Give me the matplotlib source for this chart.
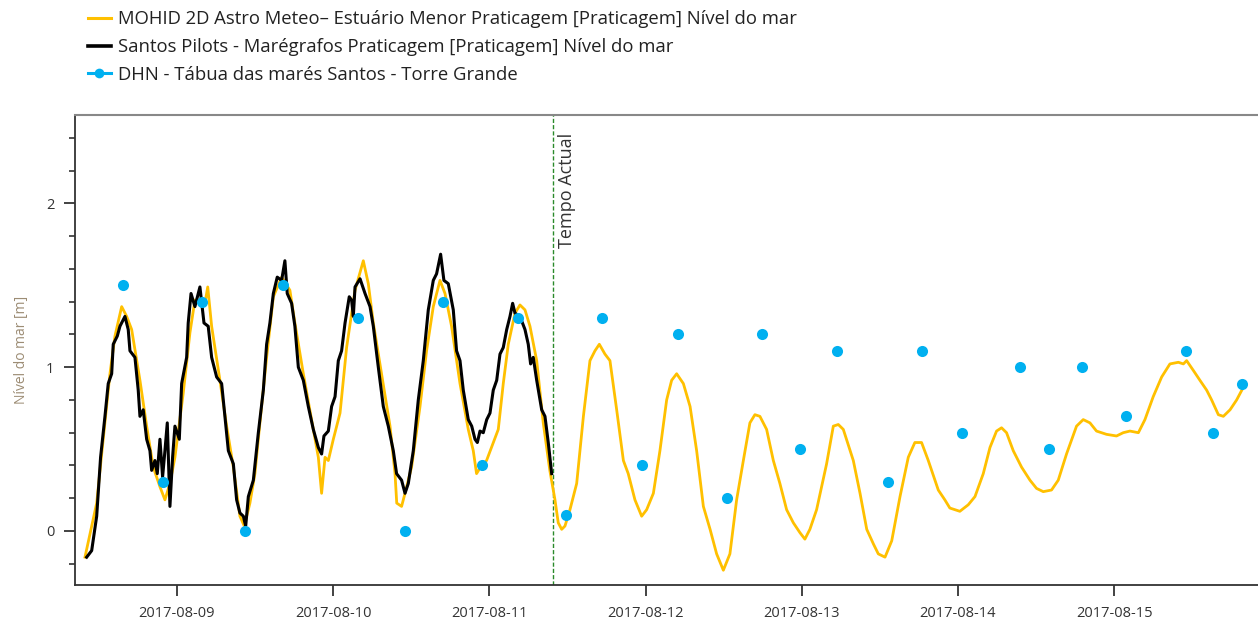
import numpy as np
import matplotlib
matplotlib.use("Agg")
import matplotlib.pyplot as plt
import matplotlib.dates as mdates
from matplotlib.lines import Line2D
from matplotlib.ticker import MultipleLocator

plt.rcParams['font.family'] = ['Open Sans', 'DejaVu Sans']

# ---------------- data ----------------
base_date = "2017-08-09"  # day offsets below are relative to this date

model_days = [-0.589, -0.514, -0.482, -0.429, -0.397, -0.354, -0.322, -0.290, -0.237, -0.194,
              -0.152, -0.109, -0.077, -0.045, -0.013, 0.040, 0.083, 0.115, 0.147, 0.179,
              0.197, 0.222, 0.275, 0.318, 0.361, 0.403, 0.431, 0.467, 0.499, 0.531,
              0.574, 0.617, 0.670, 0.723, 0.755, 0.809, 0.862, 0.905, 0.926, 0.948,
              0.969, 1.001, 1.044, 1.086, 1.140, 1.193, 1.225, 1.257, 1.310, 1.364,
              1.396, 1.407, 1.438, 1.460, 1.502, 1.556, 1.598, 1.641, 1.684, 1.716,
              1.758, 1.812, 1.865, 1.897, 1.918, 1.950, 1.982, 2.025, 2.057, 2.089,
              2.121, 2.164, 2.196, 2.228, 2.260, 2.303, 2.345, 2.387, 2.420, 2.441,
              2.463, 2.484,
              2.516, 2.559, 2.602, 2.644, 2.676, 2.704, 2.740, 2.772, 2.815, 2.858,
              2.889, 2.932, 2.975, 3.007, 3.050, 3.092, 3.135, 3.167, 3.199, 3.242,
              3.285, 3.327, 3.370, 3.413, 3.455, 3.498, 3.540, 3.583, 3.626, 3.668,
              3.700, 3.732, 3.775, 3.818, 3.860, 3.903, 3.946, 3.988, 4.020, 4.052,
              4.095, 4.159, 4.202, 4.234, 4.266, 4.330, 4.373, 4.416, 4.459, 4.490,
              4.533, 4.576, 4.629, 4.682, 4.724, 4.767, 4.810, 4.874, 4.916, 4.948,
              5.012, 5.066, 5.109, 5.162, 5.205, 5.247, 5.279, 5.311, 5.354, 5.407,
              5.461, 5.503, 5.546, 5.599, 5.642, 5.695, 5.759, 5.802, 5.845, 5.887,
              5.951, 6.015, 6.058, 6.101, 6.155, 6.197, 6.250, 6.304, 6.357, 6.411,
              6.443, 6.464, 6.507, 6.549, 6.592, 6.624, 6.667, 6.699, 6.742, 6.784,
              6.823]
model_level = [-0.16, 0.17, 0.47, 0.96, 1.19, 1.37, 1.31, 1.23, 0.92, 0.64,
               0.39, 0.27, 0.19, 0.29, 0.45, 0.84, 1.21, 1.41, 1.41, 1.39,
               1.49, 1.25, 0.92, 0.64, 0.39, 0.09, 0.03, 0.17, 0.35, 0.66,
               1.06, 1.43, 1.55, 1.47, 1.27, 0.96, 0.68, 0.45, 0.23, 0.45,
               0.43, 0.56, 0.72, 1.12, 1.47, 1.65, 1.51, 1.27, 0.96, 0.64,
               0.35, 0.17, 0.15, 0.23, 0.39, 0.76, 1.10, 1.37, 1.53, 1.45,
               1.25, 0.90, 0.62, 0.49, 0.35, 0.40, 0.43, 0.54, 0.62, 0.90,
               1.14, 1.33, 1.38, 1.35, 1.25, 1.04, 0.66, 0.37, 0.19, 0.05,
               0.01, 0.03,
               0.13, 0.29, 0.70, 1.04, 1.10, 1.14, 1.08, 1.04, 0.74, 0.43,
               0.35, 0.19, 0.09, 0.13, 0.23, 0.49, 0.80, 0.92, 0.96, 0.90,
               0.76, 0.49, 0.15, 0.01, -0.14, -0.24, -0.14, 0.19, 0.43, 0.66,
               0.71, 0.70, 0.62, 0.43, 0.29, 0.13, 0.05, -0.01, -0.05, 0.01,
               0.13, 0.41, 0.64, 0.65, 0.62, 0.43, 0.23, 0.01, -0.08, -0.14,
               -0.16, -0.06, 0.21, 0.45, 0.54, 0.54, 0.43, 0.25, 0.19, 0.14,
               0.12, 0.16, 0.21, 0.35, 0.51, 0.61, 0.63, 0.60, 0.49, 0.39,
               0.31, 0.26, 0.24, 0.25, 0.31, 0.47, 0.64, 0.68, 0.66, 0.61,
               0.59, 0.58, 0.60, 0.61, 0.60, 0.68, 0.82, 0.94, 1.02, 1.03,
               1.02, 1.04, 0.98, 0.92, 0.86, 0.80, 0.71, 0.70, 0.74, 0.80,
               0.87]

obs_days = [-0.578, -0.546, -0.514, -0.489, -0.461, -0.440, -0.418, -0.408, -0.382, -0.365,
            -0.333, -0.312, -0.301, -0.269, -0.248, -0.237, -0.216, -0.194, -0.173, -0.162,
            -0.141, -0.126, -0.109, -0.092, -0.077, -0.062, -0.045, -0.028, -0.013, 0.015,
            0.030, 0.062, 0.072, 0.090, 0.115, 0.147, 0.173, 0.200, 0.222, 0.254,
            0.286, 0.307, 0.329, 0.361, 0.382, 0.403, 0.425, 0.440, 0.457, 0.489,
            0.521, 0.553, 0.574, 0.595, 0.617, 0.642, 0.670, 0.691, 0.706, 0.734,
            0.755, 0.777, 0.809, 0.841, 0.873, 0.905, 0.926, 0.941, 0.969, 0.990,
            1.012, 1.033, 1.054, 1.076, 1.103, 1.118, 1.129, 1.140, 1.172, 1.204,
            1.236, 1.257, 1.289, 1.321, 1.353, 1.385, 1.406, 1.438, 1.460, 1.481,
            1.513, 1.545, 1.577, 1.609, 1.641, 1.662, 1.688, 1.709, 1.737, 1.769,
            1.790, 1.812, 1.833, 1.865, 1.887, 1.908, 1.923, 1.940, 1.961, 1.983,
            2.004, 2.025, 2.047, 2.068, 2.089, 2.111, 2.132, 2.149, 2.164, 2.196,
            2.228, 2.249, 2.264, 2.281, 2.303, 2.335, 2.356, 2.377, 2.399]
obs_level = [-0.16, -0.12, 0.09, 0.45, 0.70, 0.90, 0.96, 1.14, 1.19, 1.25,
             1.31, 1.23, 1.10, 1.06, 0.86, 0.70, 0.74, 0.56, 0.49, 0.37,
             0.43, 0.35, 0.56, 0.33, 0.49, 0.66, 0.15, 0.45, 0.64, 0.56,
             0.90, 1.06, 1.27, 1.45, 1.37, 1.49, 1.27, 1.25, 1.06, 0.94,
             0.90, 0.70, 0.49, 0.41, 0.19, 0.11, 0.09, 0.03, 0.21, 0.31,
             0.60, 0.86, 1.14, 1.27, 1.45, 1.55, 1.53, 1.65, 1.45, 1.39,
             1.25, 1.00, 0.92, 0.76, 0.62, 0.51, 0.47, 0.58, 0.61, 0.76,
             0.82, 1.04, 1.10, 1.27, 1.43, 1.41, 1.31, 1.49, 1.54, 1.45,
             1.37, 1.25, 1.00, 0.76, 0.64, 0.49, 0.35, 0.31, 0.23, 0.29,
             0.49, 0.80, 1.04, 1.35, 1.53, 1.57, 1.69, 1.53, 1.51, 1.35,
             1.10, 1.04, 0.86, 0.68, 0.64, 0.56, 0.54, 0.61, 0.60, 0.68,
             0.72, 0.86, 0.92, 1.08, 1.12, 1.23, 1.31, 1.39, 1.33, 1.31,
             1.23, 1.14, 1.02, 1.06, 0.92, 0.74, 0.70, 0.54, 0.35]

dhn_times = ["2017-08-08 15:45", "2017-08-08 21:53", "2017-08-09 03:48", "2017-08-09 10:26",
             "2017-08-09 16:21", "2017-08-10 03:46", "2017-08-10 11:02", "2017-08-10 16:55",
             "2017-08-10 22:49", "2017-08-11 04:26", "2017-08-11 11:46", "2017-08-11 17:15",
             "2017-08-11 23:24", "2017-08-12 05:02", "2017-08-12 12:27", "2017-08-12 17:50",
             "2017-08-12 23:44", "2017-08-13 05:21", "2017-08-13 13:18", "2017-08-13 18:25",
             "2017-08-14 00:35", "2017-08-14 09:32", "2017-08-14 14:02", "2017-08-14 19:00",
             "2017-08-15 01:49", "2017-08-15 10:59", "2017-08-15 15:07", "2017-08-15 19:41"]
dhn_level = [1.5, 0.3, 1.4, 0.0, 1.5, 1.3, 0.0, 1.4, 0.4, 1.3, 0.1, 1.3, 0.4, 1.2,
             0.2, 1.2, 0.5, 1.1, 0.3, 1.1, 0.6, 1.0, 0.5, 1.0, 0.7, 1.1, 0.6, 0.9]

tempo_actual = "2017-08-11 09:46"
x_start = "2017-08-08 08:20"
x_end = "2017-08-15 22:06"

labels = ["MOHID 2D Astro Meteo\u2013 Estuário Menor Praticagem [Praticagem] Nível do mar",
          "Santos Pilots - Marégrafos Praticagem [Praticagem] Nível do mar",
          "DHN - Tábua das marés Santos - Torre Grande"]

# ---------------- plot ----------------
ORANGE = '#FFC000'
BLUE = '#00B0F0'

fig = plt.figure(figsize=(12.58, 6.25), dpi=100)
ax = fig.add_axes([75 / 1258, 1 - 585 / 625, 1 - 75 / 1258, (585 - 115) / 625])

b = mdates.date2num(np.datetime64(base_date))
mx = b + np.array(model_days)
ox = b + np.array(obs_days)
dx = mdates.date2num(np.array(dhn_times, dtype='datetime64[m]'))

ax.plot(mx, model_level, color=ORANGE, lw=2.0, zorder=2)
ax.plot(ox, obs_level, color='black', lw=2.2, zorder=3)
ax.plot(dx, dhn_level, 'o', color=BLUE, ms=8, mec='none', zorder=4)

ta = mdates.date2num(np.datetime64(tempo_actual))
ax.axvline(ta, color='#2a8a2a', lw=1.0, ls=(0, (3, 1.5)), zorder=1)
ax.annotate("Tempo Actual", xy=(ta, 1.0), xycoords=('data', 'axes fraction'),
            xytext=(4, -13), textcoords='offset points', rotation=90,
            ha='left', va='top', fontsize=13, color='#333333')

ax.set_xlim(mdates.date2num(np.datetime64(x_start)), mdates.date2num(np.datetime64(x_end)))
ax.set_ylim(-0.33, 2.54)
ax.xaxis_date()
ax.xaxis.set_major_locator(mdates.DayLocator())
ax.xaxis.set_major_formatter(mdates.DateFormatter('%Y-%m-%d'))
ax.yaxis.set_major_locator(MultipleLocator(1))
ax.yaxis.set_minor_locator(MultipleLocator(0.2))

ax.tick_params(axis='x', which='major', length=8, width=1.2, color='#222222',
               labelsize=10.5, labelcolor='#333333', pad=7)
ax.tick_params(axis='y', which='major', length=8, width=1.2, color='#222222',
               labelsize=10.5, labelcolor='#333333', pad=7)
ax.tick_params(axis='y', which='minor', length=4, width=1.2, color='#333333')

for s in ['left', 'bottom']:
    ax.spines[s].set_color('#333333')
    ax.spines[s].set_linewidth(1.3)
ax.spines['top'].set_color('#888888')
ax.spines['top'].set_linewidth(1.5)
ax.spines['right'].set_visible(False)

ax.set_ylabel("Nível do mar [m]", color='#9c8c74', fontsize=10, labelpad=12)

handles = [Line2D([], [], color=ORANGE, lw=2.2),
           Line2D([], [], color='black', lw=2.6),
           Line2D([], [], color=BLUE, lw=2.2, marker='o', ms=7, mec='none')]
fig.legend(handles, labels, loc='upper left', bbox_to_anchor=(81 / 1258, 1 - 3 / 625),
           frameon=False, fontsize=13.3, handlelength=1.2, handletextpad=0.4,
           labelspacing=0.52, labelcolor='#222222', borderaxespad=0)

fig.savefig('out.png', dpi=100)
